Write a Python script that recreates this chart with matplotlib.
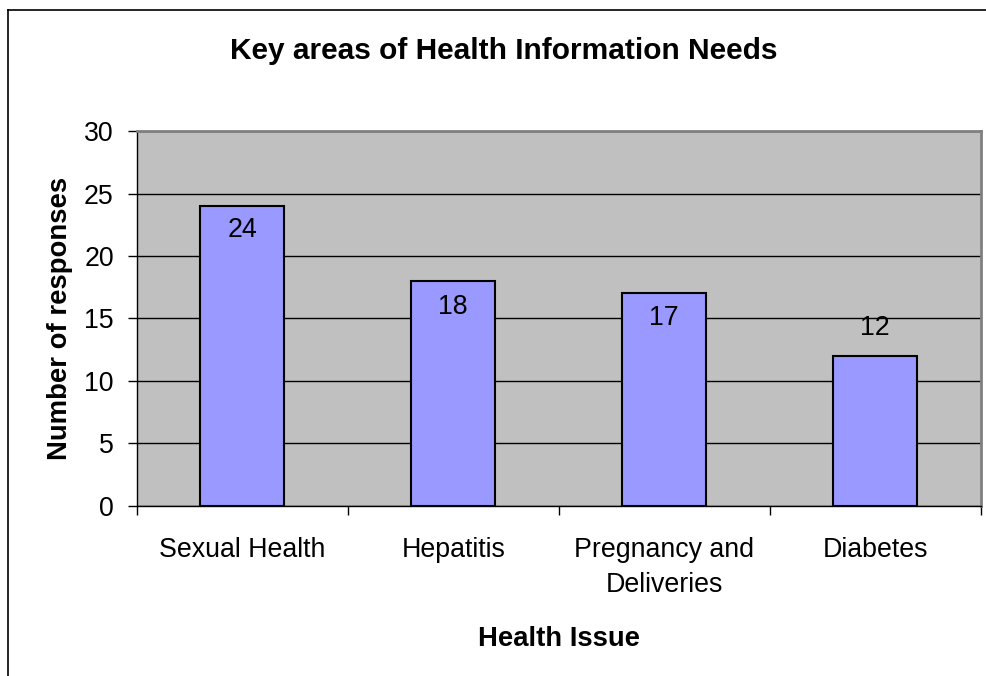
import matplotlib
matplotlib.use("Agg")
import matplotlib.pyplot as plt
from matplotlib.lines import Line2D
from matplotlib.ticker import FixedLocator, NullFormatter

plt.rcParams['font.family'] = ['Liberation Sans', 'DejaVu Sans']

categories = ["Sexual Health", "Hepatitis", "Pregnancy and\nDeliveries", "Diabetes"]
responses = [24, 18, 17, 12]
y_ticks = [0, 5, 10, 15, 20, 25, 30]
# vertical offset (points) of each value label from its bar top
label_offsets = [-17.5, -19.0, -18.0, 20.0]

fig = plt.figure(figsize=(9.86, 6.76), dpi=100)
ax = fig.add_axes([136.7 / 986, 1 - 505.5 / 676, (980.7 - 136.7) / 986, (505.5 - 131.3) / 676])

ax.set_facecolor('#C0C0C0')
ax.set_axisbelow(True)
ax.yaxis.grid(True, color='black', linewidth=1.0)

x = list(range(len(categories)))
bars = ax.bar(x, responses, width=0.4, color='#9999FF', edgecolor='black', linewidth=1.5, zorder=3)

for xi, v, off in zip(x, responses, label_offsets):
    ax.annotate(str(v), xy=(xi, v), xytext=(0, off), textcoords='offset points',
                ha='center', va='center', fontsize=19.3, color='black', zorder=4)

ax.set_xlim(-0.5, len(categories) - 0.5)
ax.set_ylim(0, 30)
ax.set_yticks(y_ticks)
ax.tick_params(axis='y', direction='out', length=6.5, width=1, pad=10, labelsize=19.3, colors='black')

# category boundaries carry the ticks; labels sit between them
ax.xaxis.set_major_locator(FixedLocator([i - 0.5 for i in range(len(categories) + 1)]))
ax.xaxis.set_major_formatter(NullFormatter())
ax.xaxis.set_minor_locator(FixedLocator(x))
ax.set_xticklabels(categories, minor=True, linespacing=1.45)
ax.tick_params(axis='x', which='major', direction='out', length=6.5, width=1)
ax.tick_params(axis='x', which='minor', length=0, pad=23, labelsize=19.3)

for side in ('left', 'bottom'):
    ax.spines[side].set_color('black')
    ax.spines[side].set_linewidth(1.0)
for side in ('top', 'right'):
    ax.spines[side].set_color('#808080')
    ax.spines[side].set_linewidth(2.0)

ax.set_xlabel("Health Issue", fontsize=19.8, fontweight='bold', labelpad=20)
ax.set_ylabel("Number of responses", fontsize=19.8, fontweight='bold', labelpad=8)

fig.text(503.5 / 986, 1 - 51 / 676, "Key areas of Health Information Needs",
         ha='center', va='center', fontsize=21.5, fontweight='bold')

# chart-area frame
fx = 7.5 / 986
fy = 1 - 9.5 / 676
fig.add_artist(Line2D([fx, fx], [0, fy], color='black', linewidth=1.2, transform=fig.transFigure))
fig.add_artist(Line2D([fx, 1], [fy, fy], color='black', linewidth=1.2, transform=fig.transFigure))

fig.savefig("out.png", dpi=100)
